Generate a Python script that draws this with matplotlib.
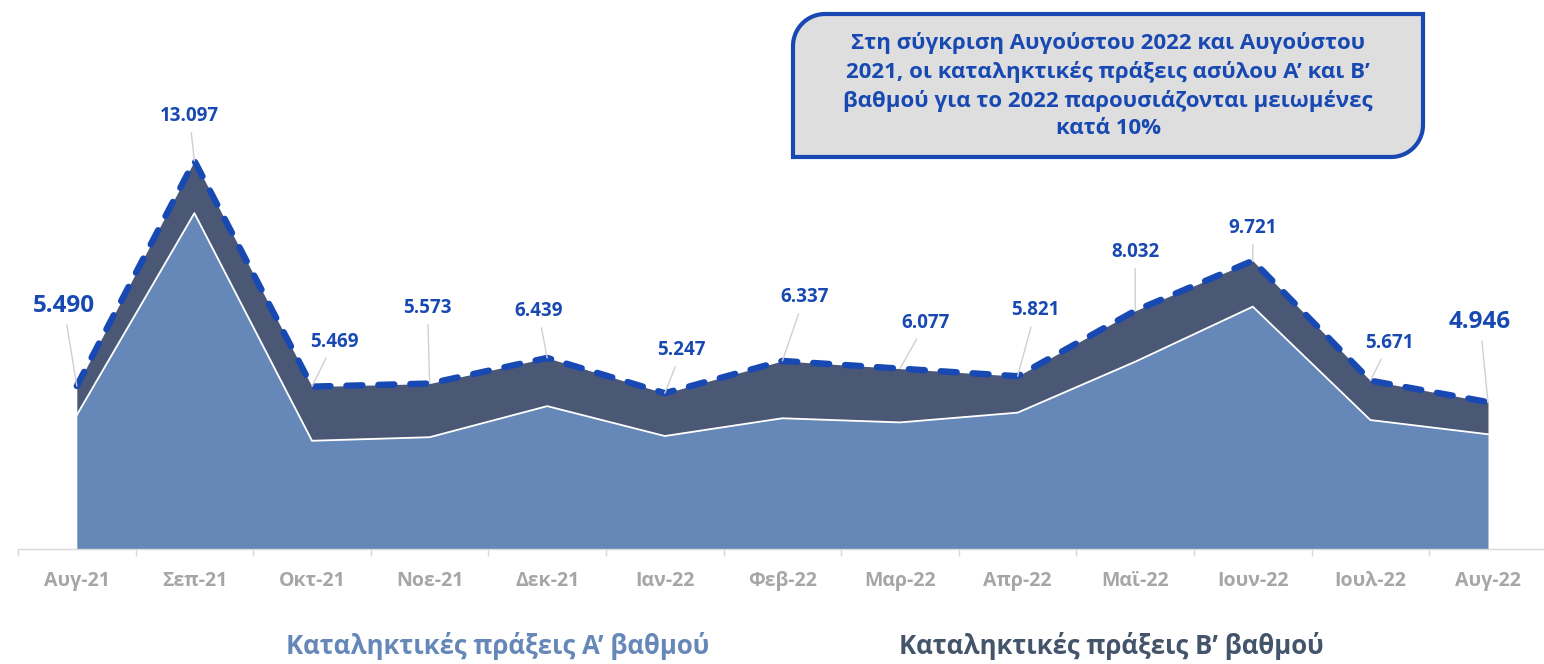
import numpy as np
import matplotlib
matplotlib.use("Agg")
import matplotlib.pyplot as plt
from matplotlib.path import Path
from matplotlib.patches import PathPatch

# data
months = ['Αυγ-21', 'Σεπ-21', 'Οκτ-21', 'Νοε-21', 'Δεκ-21', 'Ιαν-22', 'Φεβ-22',
          'Μαρ-22', 'Απρ-22', 'Μαϊ-22', 'Ιουν-22', 'Ιουλ-22', 'Αυγ-22']
total = [5490, 13097, 5469, 5573, 6439, 5247, 6337, 6077, 5821, 8032, 9721, 5671, 4946]
first_level = [4510, 11330, 3640, 3760, 4810, 3800, 4400, 4260, 4590, 6310, 8170, 4340, 3860]
second_level = [t - a for t, a in zip(total, first_level)]

# label offsets in pixels (dx, dy) from the point
label_offsets = [(-13, 80), (-5, 45), (22, 45), (-2, 76), (-9, 47), (17, 43), (22, 64),
                 (26, 46), (18, 66), (0, 59), (0, 33), (19, 38), (-8, 80)]

LOWER = '#6688b8'
UPPER = '#4a5875'
BLUE = '#1849b3'
GRAY = '#a6a6a6'

plt.rcParams['font.family'] = ['Open Sans', 'DejaVu Sans']

W, H = 1544, 664
fig = plt.figure(figsize=(W / 100, H / 100), dpi=100)

base = 548.5
px_per_unit = 0.0296
ax = fig.add_axes([18 / W, 1 - base / H, 1528.8 / W, base / H])
ax.set_xlim(-0.5, 12.5)
ax.set_ylim(0, base / px_per_unit)

x = np.arange(len(months))
upper_top = np.array(first_level) + np.array(second_level)
ax.fill_between(x, 0, first_level, color=LOWER, lw=0)
ax.fill_between(x, first_level, upper_top, color=UPPER, lw=0)
ax.plot(x, first_level, color='white', lw=1.3)
ax.plot(x, total, color=BLUE, lw=4.6, linestyle=(0, (2.5, 2.5)),
        dash_capstyle='round', solid_capstyle='round', clip_on=False, zorder=4)

for i, v in enumerate(total):
    dx, dy = label_offsets[i]
    big = i in (0, len(total) - 1)
    ax.annotate(f"{v:,}".replace(',', '.'), xy=(i, v), xytext=(dx, dy),
                textcoords='offset pixels', ha='center', va='center',
                color=BLUE, fontweight='bold', fontsize=17.5 if big else 13.5,
                arrowprops=dict(arrowstyle='-', color='#d0d0d0', lw=1.0,
                                shrinkA=3, shrinkB=0),
                zorder=5)

for s in ['top', 'right', 'left']:
    ax.spines[s].set_visible(False)
ax.spines['bottom'].set_color('#d9d9d9')
ax.spines['bottom'].set_linewidth(1.0)
ax.set_yticks([])
ax.set_xticks(x)
ax.set_xticklabels(months, color=GRAY, fontweight='bold', fontsize=14)
ax.set_xticks(np.arange(-0.5, 13, 1), minor=True)
ax.tick_params(axis='x', which='major', length=0, pad=16)
ax.tick_params(axis='x', which='minor', length=5, color='#d9d9d9', width=1)

# legend as coloured text
fig.text(498 / W, 1 - 646 / H, 'Καταληκτικές πράξεις Α’ βαθμού', color=LOWER,
         fontsize=18.5, fontweight='bold', fontstyle='normal', ha='center', va='center')
fig.text(1111 / W, 1 - 646 / H, 'Καταληκτικές πράξεις Β’ βαθμού', color='#44546a',
         fontsize=18.5, fontweight='bold', fontstyle='normal', ha='center', va='center')

# callout box with two rounded corners (top-left, bottom-right)
x0, x1, yt, yb, r = 793, 1423, H - 14, H - 157, 32
t1 = np.linspace(np.pi, np.pi / 2, 20)
t2 = np.linspace(0, -np.pi / 2, 20)
verts = [(x0, yb), (x0, yt - r)]
verts += list(zip(x0 + r + r * np.cos(t1), yt - r + r * np.sin(t1)))
verts += [(x1, yt), (x1, yb + r)]
verts += list(zip(x1 - r + r * np.cos(t2), yb + r + r * np.sin(t2)))
verts += [(x0, yb), (x0, yb)]
verts = [(vx / W, vy / H) for vx, vy in verts]
codes = [Path.MOVETO] + [Path.LINETO] * (len(verts) - 2) + [Path.CLOSEPOLY]
box = PathPatch(Path(verts, codes), facecolor='#dedede', edgecolor=BLUE, lw=3,
                transform=fig.transFigure, joinstyle='miter')
fig.patches.append(box)
fig.text(1108 / W, 1 - 86 / H,
         'Στη σύγκριση Αυγούστου 2022 και Αυγούστου\n'
         '2021, οι καταληκτικές πράξεις ασύλου Α’ και Β’\n'
         'βαθμού για το 2022 παρουσιάζονται μειωμένες\n'
         'κατά 10%',
         color=BLUE, fontsize=16, fontweight='bold', ha='center', va='center',
         linespacing=1.4)

fig.savefig('out.png', dpi=100)
